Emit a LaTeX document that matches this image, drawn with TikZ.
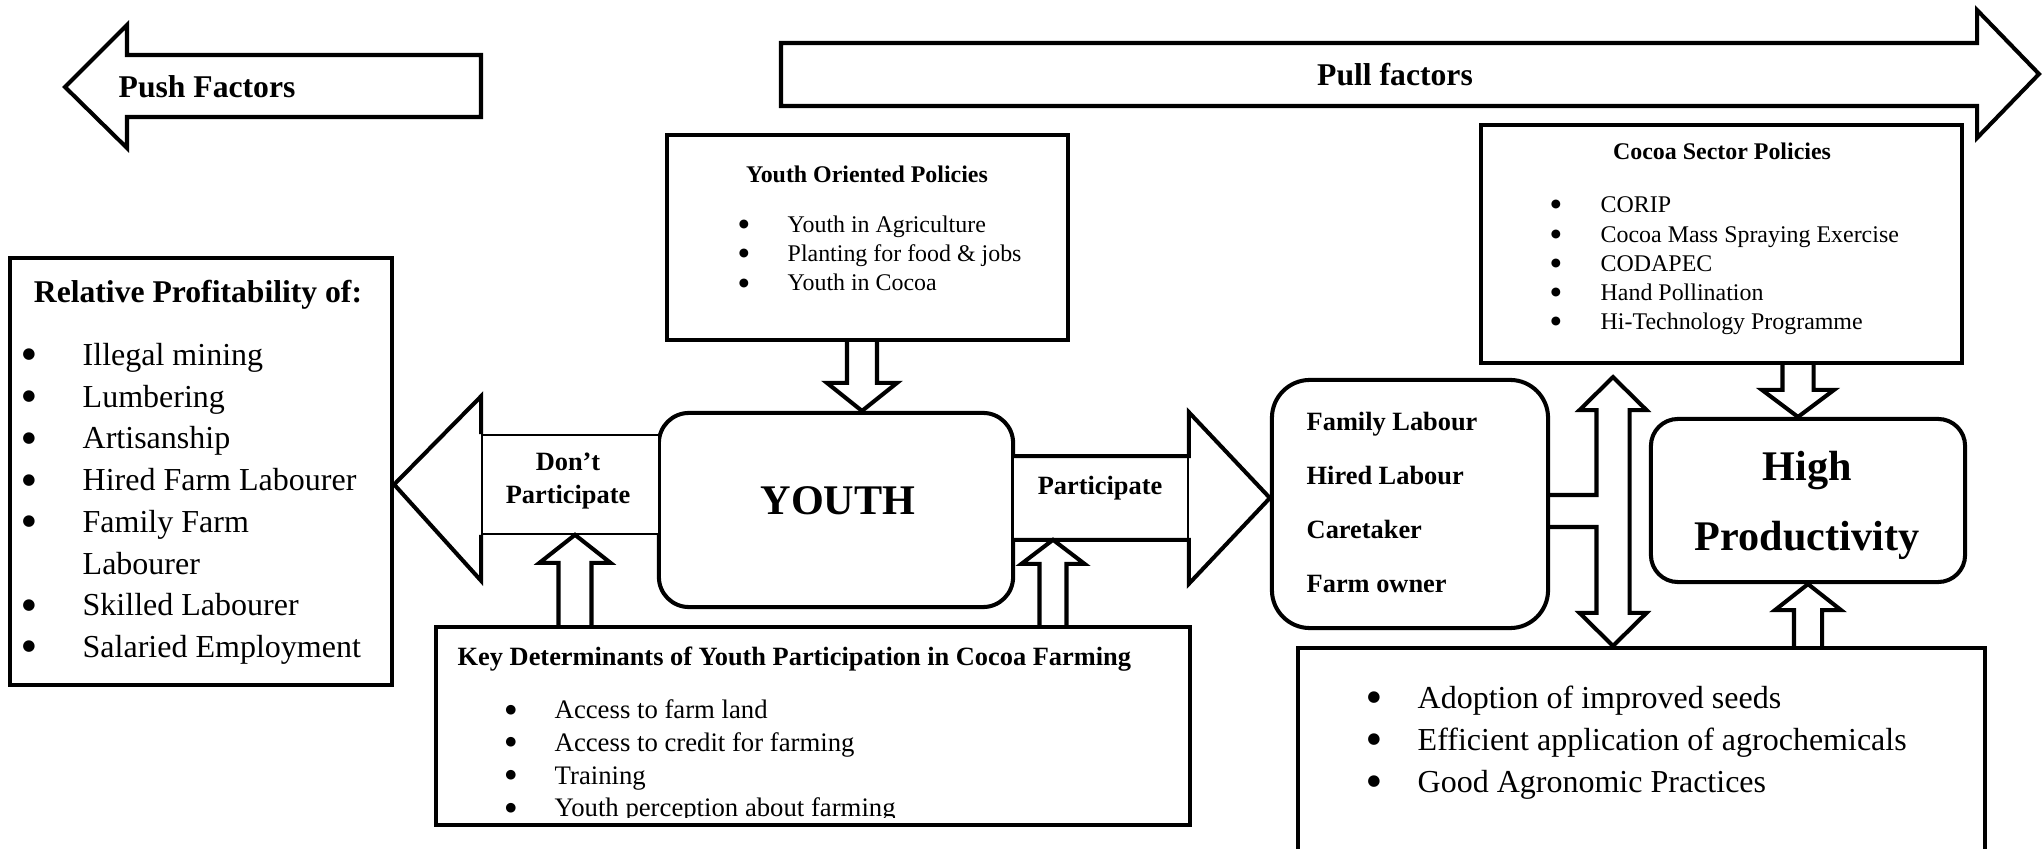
\documentclass[tikz,border=0pt]{standalone}
\usepackage{fontspec}
\setmainfont{Liberation Serif}
\newfontfamily\dejavu{DejaVu Sans}
\usetikzlibrary{positioning,calc}

% vertical block arrow: base, tip, half shaft, half head, head length (mm, signed)
\newcommand{\vblk}[5]{%
  \draw[c] ([xshift=-#3mm]#1) -- ([xshift=-#3mm, yshift=#5mm]#2)
    -- ([xshift=-#4mm, yshift=#5mm]#2) -- (#2) -- ([xshift=#4mm, yshift=#5mm]#2)
    -- ([xshift=#3mm, yshift=#5mm]#2) -- ([xshift=#3mm]#1);}

\begin{document}
\begin{tikzpicture}[x=0.01cm, y=-0.01cm,
                    c/.style={line width=1.15pt, line join=miter},
                    bx/.style={c, draw, fill=white, inner sep=0pt},
                    rbx/.style={bx, rounded corners=0.3cm},
                    tbx/.style={draw, line width=0.45pt, fill=white, inner sep=0pt},
                    lb/.style={inner sep=0pt, text depth=0pt},
                    it/.style={lb, anchor=west},
                    bl/.style={inner sep=0pt, font=\dejavu\fontsize{#1}{#1}\selectfont},
                    tA/.style={font=\fontsize{9.1}{11}\selectfont, text height=6pt},
                    tAb/.style={font=\fontsize{9}{11}\selectfont\bfseries, text height=6pt},
                    tB/.style={font=\fontsize{7.6}{9}\selectfont, text height=5pt},
                    tBb/.style={font=\fontsize{7.5}{9}\selectfont\bfseries, text height=5pt},
                    tC/.style={font=\fontsize{6.8}{8}\selectfont, text height=4.5pt},
                    tCb/.style={font=\fontsize{6.8}{8}\selectfont\bfseries, text height=4.5pt},
                    tH/.style={font=\fontsize{12}{14}\selectfont\bfseries, text height=8pt}]
  \useasboundingbox (0,0) rectangle (2042,849);
  % push / pull
  \draw[c] (481,55) -- (127,55) -- (127,25) -- (65,87) -- (127,148) -- (127,117) -- (481,117) -- cycle;
  \node[it, tAb] (push) at (118,87) {Push Factors};
  \draw[c] (781,43) -- (1977,43) -- (1977,10) -- (2039,74) -- (1977,138) -- (1977,106) -- (781,106) -- cycle;
  \node[lb, tAb] (pull) at (1395,75) {Pull factors};
  % boxes
  \node[bx, minimum width=3.82cm, minimum height=4.27cm] (rel) at (201,471.5) {};
  \node[bx, minimum width=4.01cm, minimum height=2.05cm] (yop) at (867.5,237.5) {};
  \node[rbx, minimum width=3.54cm, minimum height=1.94cm] (youth) at (836,510) {};
  \node[tbx, minimum width=1.77cm, minimum height=0.99cm] (dpbox) at (570.5,484.5) {};
  \node[tbx, minimum width=1.75cm, minimum height=0.82cm] (ptbox) at (1100.5,498) {};
  \node[bx, minimum width=7.54cm, minimum height=1.98cm] (kd) at (813,726) {};
  \node[rbx, rounded corners=0.38cm, minimum width=2.76cm, minimum height=2.48cm] (fam) at (1410,504) {};
  \node[bx, minimum width=4.81cm, minimum height=2.38cm] (cocoa) at (1721.5,244) {};
  \node[rbx, rounded corners=0.27cm, minimum width=3.14cm, minimum height=1.63cm] (hp) at (1808,500.5) {};
  \node[bx, minimum width=6.87cm, minimum height=2.03cm] (bot) at (1641.5,749.5) {};
  % relative profitability
  \node[lb, tAb] (reltitle) at (198,292) {Relative Profitability of:};
  \foreach \t [count=\i] in {Illegal mining, Lumbering, Artisanship, Hired Farm Labourer,
                             Family Farm, Labourer, Skilled Labourer, Salaried Employment}
    \node[it, tA] (r\i) at (82,313.3+41.7*\i) {\t};
  \foreach \i in {1,2,3,4,5,7,8} \node[bl=4.3] (rb\i) at (29,313.3+41.7*\i) {●};
  % youth oriented policies
  \node[lb, tCb] (yoptitle) at (867,175) {Youth Oriented Policies};
  \foreach \t [count=\i] in {Youth in Agriculture, Planting for food \& jobs, Youth in Cocoa} {
    \node[bl=3.3] (yb\i) at (744,196+29*\i) {●};
    \node[it, tC] (y\i) at (787,196+29*\i) {\t};
  }
  % youth and participation
  \node[lb, tH] (youthlbl) at (838,500) {YOUTH};
  \node[lb, tBb] (dp1) at (568,462) {Don’t};
  \node[lb, tBb] (dp2) at (568,495) {Participate};
  \node[lb, tBb] (pt) at (1100,486) {Participate};
  \draw[c] (dpbox.north west) -- ++(0,-38) -- (rel.east |- dpbox.west) -- ($(dpbox.south west)+(0,46)$) -- (dpbox.south west);
  \draw[c] (ptbox.north west) -- (ptbox.north east) -- ++(0,-44) -- (fam.west |- ptbox.east)
    -- ($(ptbox.south east)+(0,44)$) -- (ptbox.south east) -- (ptbox.south west);
  % key determinants
  \node[it, tBb] (kdtitle) at (457,657) {Key Determinants of Youth Participation in Cocoa Farming};
  \begin{scope}
    \clip (kd.north west) rectangle ([yshift=1mm]kd.south east);
    \foreach \t [count=\i] in {Access to farm land, Access to credit for farming, Training,
                               Youth perception about farming} {
      \node[bl=3.6] (kb\i) at (511,677.3+32.7*\i) {●};
      \node[it, tB] (k\i) at (554,677.3+32.7*\i) {\t};
    }
  \end{scope}
  % cocoa sector policies
  \node[lb, tCb] (cocoatitle) at (1722,152) {Cocoa Sector Policies};
  \foreach \t [count=\i] in {CORIP, Cocoa Mass Spraying Exercise, CODAPEC, Hand Pollination,
                             Hi-Technology Programme} {
    \node[bl=3.3] (cb\i) at (1556,175.8+29.2*\i) {●};
    \node[it, tC] (cp\i) at (1600,175.8+29.2*\i) {\t};
  }
  % labour and productivity
  \foreach \t [count=\i] in {Family Labour, Hired Labour, Caretaker, Farm owner}
    \node[it, tBb] (f\i) at (1306,368+54*\i) {\t};
  \node[lb, tH] (hp1) at (1807,466) {High};
  \node[lb, tH] (hp2) at (1807,536) {Productivity};
  \foreach \t [count=\i] in {Adoption of improved seeds, Efficient application of agrochemicals,
                             Good Agronomic Practices} {
    \node[bl=4.3] (bb\i) at (1374,656+42*\i) {●};
    \node[it, tA] (b\i) at (1417,656+42*\i) {\t};
  }
  % block arrows
  \coordinate (ax1) at (862,0);  \coordinate (ax2) at (575,0);  \coordinate (ax3) at (1053,0);
  \coordinate (ax4) at (1798,0); \coordinate (ax5) at (1808,0); \coordinate (ax6) at (1613,0);
  \coordinate (s1) at (ax1 |- yop.south);  \coordinate (e1) at (ax1 |- youth.north);
  \coordinate (s2) at (ax2 |- kd.north);   \coordinate (e2) at (ax2 |- dpbox.south);
  \coordinate (s3) at (ax3 |- kd.north);   \coordinate (e3) at (ax3 |- ptbox.south);
  \coordinate (s4) at (ax4 |- cocoa.south); \coordinate (e4) at (ax4 |- hp.north);
  \coordinate (s5) at (ax5 |- bot.north);  \coordinate (e5) at (ax5 |- hp.south);
  \vblk{s1}{e1}{1.5}{3.5}{2.8}
  \vblk{s2}{e2}{1.65}{3.55}{-2.8}
  \vblk{s3}{e3}{1.35}{3.15}{-2.4}
  \vblk{s4}{e4}{1.55}{3.6}{2.7}
  \vblk{s5}{e5}{1.4}{3.3}{-2.6}
  \coordinate (tu) at ($(ax6 |- cocoa.south)+(0,12)$);
  \coordinate (td) at (ax6 |- bot.north);
  \coordinate (j1) at ([yshift=0.9mm]fam.east);  \coordinate (k1) at (j1 -| tu);
  \coordinate (j2) at ([yshift=-2.3mm]fam.east); \coordinate (k2) at (j2 -| td);
  \draw[c] (j1) -- ([xshift=-1.65mm]k1) -- ([xshift=-1.65mm, yshift=-3.3mm]tu)
    -- ([xshift=-3.35mm, yshift=-3.3mm]tu) -- (tu) -- ([xshift=3.35mm, yshift=-3.3mm]tu)
    -- ([xshift=1.65mm, yshift=-3.3mm]tu) -- ([xshift=1.65mm, yshift=3.3mm]td)
    -- ([xshift=3.35mm, yshift=3.3mm]td) -- (td) -- ([xshift=-3.35mm, yshift=3.3mm]td)
    -- ([xshift=-1.65mm, yshift=3.3mm]td) -- ([xshift=-1.65mm]k2) -- (j2);
\end{tikzpicture}
\end{document}
